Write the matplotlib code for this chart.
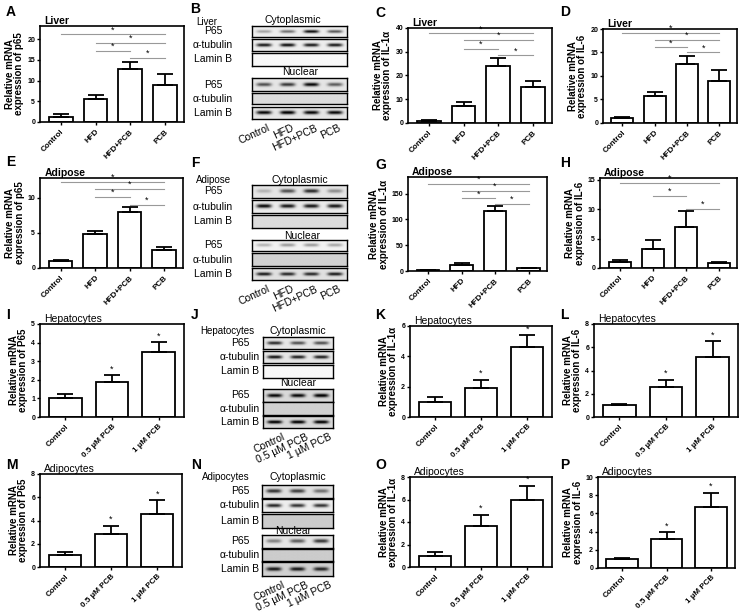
import numpy as np
import matplotlib
matplotlib.use('Agg')
from matplotlib import pyplot as plt

plt.rcParams['font.family'] = ['Liberation Sans', 'DejaVu Sans']

W, H = 740, 612

# ---- bar chart data ----
groups4 = ['Control', 'HFD', 'HFD+PCB', 'PCB']
groups3 = ['Control', '0.5 µM PCB', '1 µM PCB']

a_mean = [1.1, 5.5, 12.7, 9.0]
a_err = [0.8, 1.0, 1.7, 2.6]
c_mean = [1.0, 7.2, 24.0, 15.0]
c_err = [0.2, 1.5, 3.5, 2.8]
d_mean = [1.0, 5.8, 12.6, 9.0]
d_err = [0.3, 0.9, 1.6, 2.3]
e_mean = [1.0, 4.8, 7.9, 2.5]
e_err = [0.15, 0.45, 0.8, 0.45]
g_mean = [1.0, 12.0, 116.0, 5.0]
g_err = [0.5, 3.0, 10.0, 1.0]
h_mean = [1.0, 3.3, 7.0, 0.9]
h_err = [0.4, 1.4, 2.7, 0.2]
i_mean = [1.0, 1.9, 3.5]
i_err = [0.22, 0.35, 0.52]
k_mean = [1.0, 1.9, 4.6]
k_err = [0.3, 0.55, 0.8]
l_mean = [1.0, 2.6, 5.2]
l_err = [0.12, 0.6, 1.3]
m_mean = [1.0, 2.85, 4.6]
m_err = [0.25, 0.68, 1.15]
o_mean = [1.0, 3.65, 6.0]
o_err = [0.35, 1.0, 1.2]
p_mean = [1.0, 3.2, 6.7]
p_err = [0.1, 0.75, 1.55]

# significance brackets: (from bar, to bar, height)
a_sig = [(0, 3, 21.2), (1, 3, 19.2), (1, 2, 17.2), (2, 3, 15.5)]
c_sig = [(0, 3, 37.7), (1, 3, 34.9), (1, 2, 31.1), (2, 3, 28.5)]
d_sig = [(0, 3, 19.1), (1, 3, 17.7), (1, 2, 16.1), (2, 3, 15.0)]
e_sig = [(0, 3, 12.2), (1, 3, 11.3), (1, 2, 10.1), (2, 3, 9.0)]
g_sig = [(0, 3, 169), (1, 3, 155), (1, 2, 140.5), (2, 3, 130)]
h_sig = [(0, 3, 14.5), (1, 2, 12.3), (2, 3, 10.0)]

# ---- western blot band intensities (0 = no band) ----
b_lanes = [[0.3, 0.5, 0.9, 0.6], [0.85, 0.9, 0.85, 0.85], [0, 0, 0, 0],
           [0.6, 0.7, 0.9, 0.55], [0, 0, 0, 0], [0.9, 0.95, 0.9, 0.9]]
b_bg = [0.93, 0.93, 0.97, 0.9, 0.86, 0.9]
f_lanes = [[0.2, 0.6, 0.75, 0.35], [0.9, 0.85, 0.85, 0.85], [0, 0, 0, 0],
           [0.25, 0.35, 0.35, 0.3], [0, 0, 0, 0], [0.8, 0.75, 0.75, 0.8]]
f_bg = [0.9, 0.92, 0.86, 0.95, 0.82, 0.88]
j_lanes = [[0.75, 0.6, 0.6], [0.85, 0.8, 0.8], [0, 0, 0],
           [0.85, 0.85, 0.9], [0, 0, 0], [0.9, 0.9, 0.9]]
j_bg = [0.9, 0.9, 0.97, 0.85, 0.82, 0.85]
n_lanes = [[0.7, 0.65, 0.45], [0.8, 0.75, 0.75], [0, 0, 0],
           [0.4, 0.55, 0.7], [0, 0, 0], [0.75, 0.75, 0.7]]
n_bg = [0.88, 0.93, 0.8, 0.9, 0.8, 0.82]
row_names = ['P65', 'α-tubulin', 'Lamin B', 'P65', 'α-tubulin', 'Lamin B']

fig = plt.figure(figsize=(7.4, 6.12), dpi=100)


def rect(x0, y0, x1, y1):
    return [x0 / W, 1 - y1 / H, (x1 - x0) / W, (y1 - y0) / H]


def ftext(x, y, s, **kw):
    fig.text(x / W, 1 - y / H, s, **kw)


def bar_panel(box, cats, means, errs, ymax, yticks, ylab, title, bold, sig=None):
    ax = fig.add_axes(rect(*box))
    n = len(cats)
    x = np.arange(n)
    ax.bar(x, means, width=0.68 if n == 4 else 0.7, color='white', edgecolor='black',
           linewidth=1.3, zorder=2)
    ax.errorbar(x, means, yerr=[np.zeros(n), errs], fmt='none', ecolor='black',
                elinewidth=1.3, capsize=6, capthick=1.3, zorder=3)
    if n == 4:
        ax.set_xlim(-0.6, 3.55)
    else:
        ax.set_xlim(-0.54, 2.54)
    ax.set_ylim(0, ymax)
    ax.set_yticks(yticks)
    ax.set_xticks(x)
    ax.set_xticklabels(cats, rotation=45, ha='right', va='top', rotation_mode='anchor',
                       fontsize=5.8, fontweight='bold')
    ax.tick_params(axis='y', labelsize=5, width=1, length=2.5, pad=1)
    ax.tick_params(axis='x', width=1, length=2.5, pad=2)
    for lbl in ax.get_yticklabels():
        lbl.set_fontweight('bold')
    for sp in ax.spines.values():
        sp.set_linewidth(1.2)
    ax.set_ylabel(ylab, fontsize=7, fontweight='bold', linespacing=0.95, labelpad=2)
    ax.text(0.03, 1.005, title, transform=ax.transAxes, fontsize=7.5,
            fontweight='bold' if bold else 'normal', va='bottom')
    if sig:
        for x1, x2, y in sig:
            ax.plot([x1, x2], [y, y], color='0.6', lw=0.8, zorder=1)
            ax.text((x1 + x2) / 2, y, '*', ha='center', va='bottom', fontsize=6.5)
    else:
        for xi in x[1:]:
            ax.text(xi, means[xi] + errs[xi] + ymax * 0.02, '*', ha='center',
                    va='bottom', fontsize=6.5)
    return ax


def blot_strip(box, lanes, bg):
    ax = fig.add_axes(rect(*box))
    n = len(lanes)
    xs = np.linspace(0, n, 240)
    ys = np.linspace(-1, 1, 40)
    X, Y = np.meshgrid(xs, ys)
    img = np.full(X.shape, bg)
    for i, v in enumerate(lanes):
        img = img - v * np.exp(-((X - i - 0.5) / 0.32) ** 4) * np.exp(-(Y / 0.28) ** 2)
    ax.imshow(np.clip(img, 0, 1), cmap='gray', vmin=0, vmax=1, aspect='auto',
              extent=[0, n, 0, 1], interpolation='bilinear')
    ax.set_xticks([])
    ax.set_yticks([])
    for sp in ax.spines.values():
        sp.set_linewidth(1.0)


def blot_panel(x0, x1, rows, lanes, bgs, name_x, tissue, tissue_xy, cyto_xy, nuc_xy, lane_names,
               lab_dx):
    for (y0, y1), ln, bg, nm in zip(rows, lanes, bgs, row_names):
        blot_strip((x0, y0, x1, y1), ln, bg)
        ftext(name_x, (y0 + y1) / 2, nm, ha='center', va='center', fontsize=7.5)
    ftext(tissue_xy[0], tissue_xy[1], tissue, ha='left', va='center', fontsize=7)
    ftext(cyto_xy[0], cyto_xy[1], 'Cytoplasmic', ha='center', va='center', fontsize=7.5)
    ftext(nuc_xy[0], nuc_xy[1], 'Nuclear', ha='center', va='center', fontsize=7.5)
    nl = len(lane_names)
    step = (x1 - x0) / nl
    yb = rows[-1][1]
    for i, s in enumerate(lane_names):
        ftext(x0 + step * (i + 0.5) + lab_dx, yb + 4, s, ha='right', va='top',
              rotation=25, rotation_mode='anchor', fontsize=7.5)


ylab_p65 = 'Relative mRNA\nexpression of p65'
ylab_P65 = 'Relative mRNA\nexpression of P65'
ylab_il1 = 'Relative mRNA\nexpression of IL-1α'
ylab_il6 = 'Relative mRNA\nexpression of IL-6'

# row 1: liver
bar_panel((40, 26, 184, 122), groups4, a_mean, a_err, 23.2, [0, 5, 10, 15, 20], ylab_p65, 'Liver', True, a_sig)
bar_panel((408, 28, 552, 123), groups4, c_mean, c_err, 40, [0, 10, 20, 30, 40], ylab_il1, 'Liver', True, c_sig)
bar_panel((603, 29, 737, 123), groups4, d_mean, d_err, 20, [0, 5, 10, 15, 20], ylab_il6, 'Liver', True, d_sig)
# row 2: adipose
bar_panel((40, 178, 183, 268), groups4, e_mean, e_err, 12.8, [0, 5, 10], ylab_p65, 'Adipose', True, e_sig)
bar_panel((408, 177, 547, 271), groups4, g_mean, g_err, 182, [0, 50, 100, 150], ylab_il1, 'Adipose', True, g_sig)
bar_panel((600, 178, 737, 268), groups4, h_mean, h_err, 15.3, [0, 5, 10, 15], ylab_il6, 'Adipose', True, h_sig)
# row 3: hepatocytes
bar_panel((40, 324, 184, 417), groups3, i_mean, i_err, 5, [0, 1, 2, 3, 4, 5], ylab_P65, 'Hepatocytes', False)
bar_panel((410, 326, 552, 417), groups3, k_mean, k_err, 6, [0, 2, 4, 6], ylab_il1, 'Hepatocytes', False)
bar_panel((594, 324, 738, 417), groups3, l_mean, l_err, 8, [0, 2, 4, 6, 8], ylab_il6, 'Hepatocytes', False)
# row 4: adipocytes
bar_panel((40, 474, 182, 567), groups3, m_mean, m_err, 8, [0, 2, 4, 6, 8], ylab_P65, 'Adipocytes', False)
bar_panel((410, 477, 552, 567), groups3, o_mean, o_err, 8, [0, 2, 4, 6, 8], ylab_il1, 'Adipocytes', False)
bar_panel((598, 477, 735, 568), groups3, p_mean, p_err, 10, [0, 2, 4, 6, 8, 10], ylab_il6, 'Adipocytes', False)

# blots
blot_panel(252, 347, [(26, 37), (39, 51), (53, 66), (78, 91), (93, 104), (107, 119)],
           b_lanes, b_bg, 213, 'Liver', (196, 22), (293, 20), (300, 72), groups4, 3)
blot_panel(252, 347, [(185, 198), (200, 213), (215, 228), (240, 251), (253, 266), (268, 280)],
           f_lanes, f_bg, 213, 'Adipose', (196, 180), (300, 180), (302, 236), groups4, 3)
blot_panel(263, 333, [(337, 349), (351, 363), (365, 378), (389, 402), (402, 415), (416, 428)],
           j_lanes, j_bg, 240, 'Hepatocytes', (200, 331), (298, 331), (298, 383), groups3, 8)
blot_panel(262, 333, [(485, 498), (499, 512), (514, 528), (535, 548), (549, 561), (562, 576)],
           n_lanes, n_bg, 240, 'Adipocytes', (202, 477), (298, 477), (293, 531), groups3, 8)

# panel letters
letters = [('A', 6, 12), ('B', 190, 9), ('C', 375, 13), ('D', 560, 12),
           ('E', 6, 162), ('F', 191, 163), ('G', 375, 165), ('H', 560, 163),
           ('I', 6, 315), ('J', 191, 315), ('K', 375, 315), ('L', 560, 315),
           ('M', 6, 465), ('N', 191, 465), ('O', 375, 465), ('P', 560, 465)]
for s, x, y in letters:
    ftext(x, y, s, fontsize=10, fontweight='bold', ha='left', va='center')

fig.savefig('out.png', dpi=100)
